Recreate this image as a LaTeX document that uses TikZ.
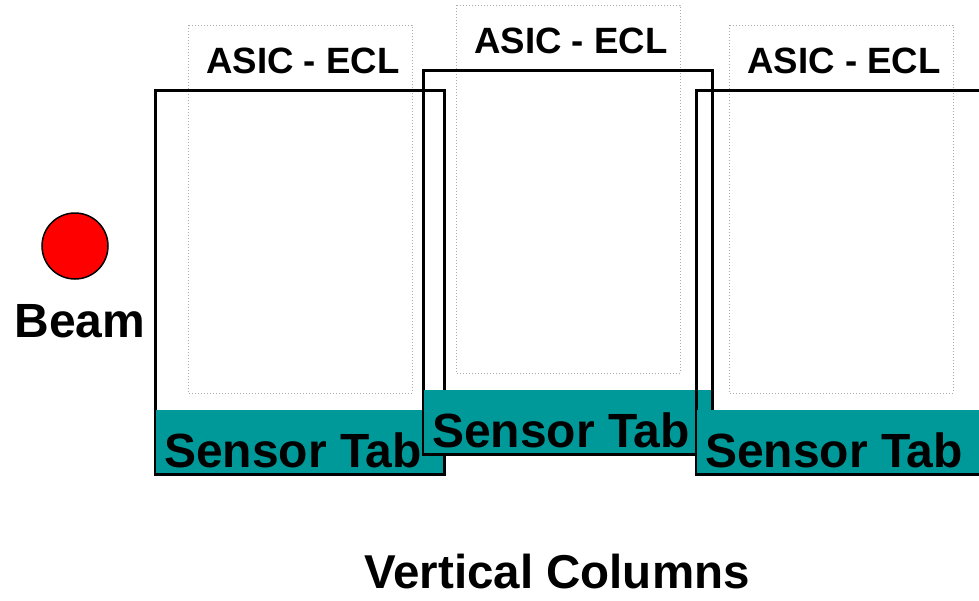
\documentclass[tikz,border=0pt]{standalone}
\usepackage{fontspec}
\setmainfont{Liberation Sans}
\definecolor{tabteal}{RGB}{0,153,153}
\definecolor{dotgray}{RGB}{170,170,170}
\tikzset{
  colframe/.style={line width=3pt},
  asicbox/.style={draw=dotgray, line width=1pt, dash pattern=on 1pt off 2pt},
  sensortab/.style={fill=tabteal},
  tabedge/.style={line width=1.5pt},
  lbl/.style={font=\bfseries\fontsize{#1}{#1}\selectfont, anchor=base, inner sep=0pt},
}
\begin{document}
\begin{tikzpicture}[x=1pt,y=-1pt,line join=miter]
\def \colw{289};
\def \colh{384};
\def \tabtop{320};
\useasboundingbox (0,0) rectangle (979,600);
\clip (0,0) rectangle (979,600);
% three columns, each one shifted from the first
\foreach \i/\dx/\dy in {1/0/0,2/268/-20,3/541/0}{
  \begin{scope}[shift={(155+\dx,90+\dy)}]
    \draw[asicbox] (33,-65) rectangle (257,303);
    \draw[colframe] (0,0) rectangle (\colw,\colh);
    \fill[sensortab] (0,\tabtop) rectangle (\colw,\colh);
    \draw[tabedge] (0,\tabtop) |- (\colw,\colh) -- (\colw,\tabtop);
    \node[lbl=36.6] (asic\i) at (148,-17) {ASIC - ECL};
    \node[lbl=48] (tab\i) at (138,377) {Sensor Tab};
  \end{scope}
}
\node[circle, draw, fill=red, line width=1.5pt, minimum size=66pt, inner sep=0pt] (beamdot) at (75,246) {};
\node[lbl=48] (beam) at (80,337) {Beam};
\node[lbl=47.5] (title) at (557,588) {Vertical Columns};
\end{tikzpicture}
\end{document}
